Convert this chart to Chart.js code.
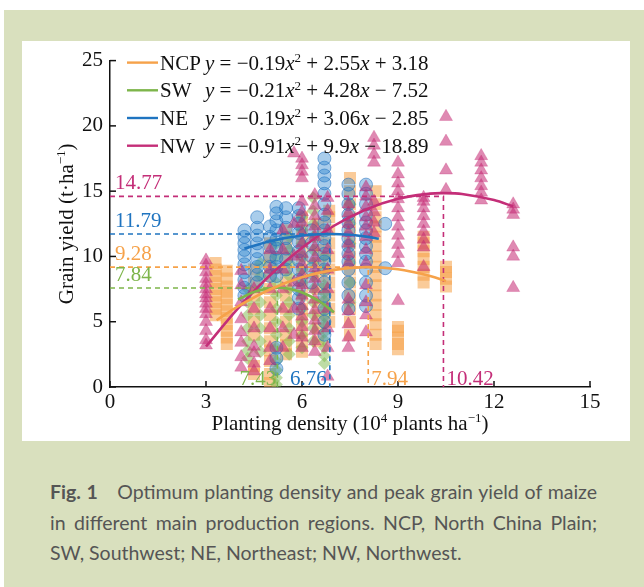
<!DOCTYPE html>
<html><head><meta charset="utf-8">
<script src="https://cdn.jsdelivr.net/npm/chart.js@4.4.0/dist/chart.umd.min.js"></script>
<style>
html,body{margin:0;padding:0;background:#fff;width:644px;height:587px;overflow:hidden;}
#bg{position:absolute;left:4px;top:10px;width:640px;height:577px;background:#d9e0be;}
#panel{position:absolute;left:22px;top:41px;width:608px;height:400px;background:#fff;}
#cap{position:absolute;left:50px;top:477px;width:547px;font-family:Lato,"Open Sans",sans-serif;font-size:19.5px;line-height:30.5px;color:#555;margin:0;}
#cap div{text-align:justify;text-align-last:justify;white-space:nowrap;}
#cap div.last{text-align:left;text-align-last:left;}
</style></head><body>
<div id="bg"></div>
<div id="panel"><canvas id="c" width="608" height="400"></canvas></div>
<div id="cap">
<div><b>Fig. 1</b>&ensp;&ensp;Optimum planting density and peak grain yield of maize</div>
<div>in different main production regions. NCP, North China Plain;</div>
<div class="last">SW, Southwest; NE, Northeast; NW, Northwest.</div>
</div>
<script>
// ---------- DATA ----------
const regions = ['NCP', 'SW', 'NE', 'NW'];
const equations = [
  ['−0.19', '2.55', '+', '3.18'],
  ['−0.21', '4.28', '−', '7.52'],
  ['−0.19', '3.06', '−', '2.85'],
  ['−0.91', '9.9', '−', '18.89']
];
// optimum density / peak yield (positions as drawn) and their printed labels
const peakX = [8.07, 5.23, 6.87, 10.42];
const peakY = [9.18, 7.58, 11.72, 14.6];
const peakXLabels = ['7.94', '7.43', '6.76', '10.42'];
const peakYLabels = ['9.28', '7.84', '11.79', '14.77'];

// fitted curves
const ncpCurveX = [3.33, 4, 5, 6, 7, 8, 9, 10, 10.5];
const ncpCurveY = [5.11, 6.18, 7.47, 8.40, 8.97, 9.18, 9.02, 8.51, 8.11];
const swCurveX = [4.0, 4.5, 5.0, 5.23, 5.5, 6.0, 6.5, 7.0];
const swCurveY = [6.7, 7.28, 7.57, 7.6, 7.56, 7.24, 6.63, 5.72];
const neCurveX = [4.2, 5, 6, 6.87, 7.5, 8, 8.4];
const neCurveY = [10.6, 11.17, 11.6, 11.72, 11.66, 11.52, 11.35];
const nwCurveX = [3.0, 4, 5, 6, 7, 8, 9, 10, 10.42, 11, 12, 12.6];
const nwCurveY = [3.1, 6.03, 8.56, 10.67, 12.35, 13.6, 14.42, 14.81, 14.85, 14.78, 14.32, 13.83];

// observations: columns of yields at each planting density
const ncpX = [3.3, 3.65, 4.5, 5.0, 5.5, 6.0, 6.5, 6.85, 7.5, 8.3, 9.0, 9.8, 10.5];
const ncpY = [
  [5.5,6.0,6.5,7.0,7.5,8.0,8.5,9.0,9.5],
  [3.3,3.8,4.3,4.8,5.3,5.8,6.3,6.8,7.3,7.7,8.3,8.9],
  [1.0,1.6,4.0,5.0,6.0,7.0,8.0,9.0],
  [0.3,1.0,2.0,2.8,3.5,4.5,5.5,6.5,7.5,8.5,9.3,10.0,11.0],
  [2.5,3.2,4.0,5.0,6.0,7.0,8.0,9.0,10.0,11.0,12.0],
  [2.7,3.5,4.3,5.2,6.0,7.0,8.0,9.0,10.0,11.0,12.0,13.0],
  [3.5,4.5,5.5,6.5,7.5,8.5,9.5,10.5,11.5,12.5],
  [5.0,6.0,7.0,8.0,9.0,10.0,11.0,12.0,13.0,13.5],
  [4.0,5.0,6.0,7.0,8.0,9.0,10.0,11.0,12.0,13.0,14.0,15.0,16.0],
  [3.3,4.0,4.8,5.5,6.3,7.0,7.8,8.5,9.2,10.0,10.8,11.5,12.3,13.0,14.0,15.0],
  [2.9,3.3,3.8,4.3,4.6],
  [8.0,8.6,9.2,9.8,10.4,11.0,11.5],
  [7.7,8.3,8.8,9.2]
];
const swX = [4.3, 4.7, 5.2, 5.6, 6.0, 6.35, 6.7, 7.5];
const swY = [
  [2.2,2.8,3.5,4.5,5.5,6.5,7.5],
  [2.7,3.5,4.5,5.5,6.5,7.5,8.5,9.5],
  [0.2,0.7,1.3,2.0,3.0,4.0,5.0,6.0,7.0,8.0,9.0,10.0,11.0],
  [2.5,3.5,4.5,5.5,6.5,7.5,8.5,9.5,10.5,11.5],
  [3.0,4.0,5.0,6.0,7.0,8.0,9.0,10.0,11.0,12.0,13.0],
  [3.5,4.5,5.5,6.5,7.5,8.5,9.5,10.5,11.5,12.5,13.5,14.5],
  [1.8,2.4,3.0,3.6,4.2,4.8,5.4,6.0,6.6,7.2,7.8,9.0,10.0],
  [6.5,8.0,9.5,11.0,12.5,14.0]
];
const neX = [4.2, 4.6, 5.0, 5.2, 5.5, 5.9, 6.3, 6.7, 7.45, 8.0, 8.6];
const neY = [
  [7.0,7.6,8.2,8.8,9.4,10.0,10.5,11.0,11.5,12.0],
  [8.0,8.6,9.2,9.8,10.4,11.0,11.6,12.2,13.0],
  [8.5,9.2,10.0,10.8,11.5,12.3],
  [1.4,2.2,3.0,8.5,9.2,9.9,10.6,11.3,12.0,12.7,13.3,13.8],
  [9.0,9.8,10.6,11.4,12.2,13.0,13.7],
  [6.0,6.8,7.5,8.2,9.0,9.7,10.4,11.1,11.8,12.5,13.1,13.7],
  [8.0,9.0,10.0,11.0,12.0],
  [4.0,5.0,6.0,7.0,8.0,9.0,9.6,10.2,10.8,11.4,12.0,12.6,13.2,14.0,14.8,15.6,16.2,16.8,17.5],
  [6.0,7.0,8.0,9.0,9.6,10.2,10.8,11.4,12.0,12.6,13.2,14.0,14.8,15.5],
  [6.2,7.0,8.0,9.0,9.6,10.2,10.8,11.4,12.0,12.6,13.2,14.0,14.8,15.5],
  [9.1,12.5]
];
const nwX = [3.0, 4.1, 4.5, 5.0, 5.4, 5.75, 6.0, 6.4, 6.8, 7.45, 8.0, 8.25, 9.0, 9.8, 10.5, 11.6, 12.6];
const nwY = [
  [3.2,3.6,4.3,5.0,5.6,6.0,6.4,6.8,7.1,7.5,7.9,8.3,8.8,9.3,9.7],
  [1.5,2.3,3.4,4.2,5.2,6.5,7.8,8.9],
  [1.2,1.8,2.6,3.1,4.5,6.0,7.5],
  [2.0,3.0,4.5,6.0,7.5,9.0,10.5],
  [3.0,4.5,6.0,7.5,9.0,10.5,12.0],
  [4.0,6.0,8.0,10.0,12.5,17.9],
  [3.0,3.8,4.6,5.4,6.2,7.0,7.8,8.6,9.4,10.2,11.0,11.8,12.6,13.4,14.2,16.0,16.5,17.0,17.5],
  [2.7,3.5,4.3,5.1,5.9,6.7,7.5,8.3,9.1,9.9,10.7,11.5,12.3,13.1,13.9,14.7],
  [0.8,3.0,4.5,6.0,7.5,9.0,10.5,12.0,13.5,14.5],
  [3.0,3.8,4.8,5.8,6.7,9.5,10.2,11.0,11.8,12.5,13.3,14.0],
  [4.2,5.5,6.5,7.8,9.5,10.5,11.5,12.3,13.0,13.8,14.6,15.3],
  [11.8,12.6,13.4,14.2,17.2,17.8,18.5,19.1],
  [6.6,9.5,10.2,10.9,11.6,12.3,13.0,13.7,14.4,15.0,15.6,16.3,17.2],
  [9.2,10.7,11.3,11.9,12.5,13.1,13.7,14.2,14.5],
  [15.1,16.6,18.8,20.7],
  [14.3,14.9,15.4,16.0,16.6,17.2,17.7],
  [7.6,10.0,10.7,13.2,13.6,14.0]
];
const xTicks = [0, 3, 6, 9, 12, 15];
const yTicks = [0, 5, 10, 15, 20, 25];

// ---------- STYLE ----------
const lineColors = ['#f6a24a', '#7db54a', '#1f74c0', '#c42e78'];
const SERIF = '"Liberation Serif", "Times New Roman", serif';

function cols(xs, ys) {
  const out = [];
  xs.forEach((x, i) => ys[i].forEach(y => out.push({x, y})));
  return out;
}
function pairs(xs, ys) { return xs.map((x, i) => ({x, y: ys[i]})); }

const datasets = [];
[[ncpCurveX, ncpCurveY], [swCurveX, swCurveY], [neCurveX, neCurveY], [nwCurveX, nwCurveY]].forEach((c, i) => {
  datasets.push({data: pairs(c[0], c[1]), showLine: true, borderColor: lineColors[i], borderWidth: 2.6,
    pointRadius: 0, tension: 0.35, order: 0});
});
peakX.forEach((px, i) => {
  datasets.push({data: [{x: 0, y: peakY[i]}, {x: px, y: peakY[i]}, {x: px, y: 0}], showLine: true,
    borderColor: lineColors[i], borderWidth: 1.6, borderDash: [5, 4], pointRadius: 0, tension: 0, order: 1});
});
datasets.push({data: cols(nwX, nwY), pointStyle: 'triangle', pointRadius: 7.5,
  backgroundColor: 'rgba(196,40,115,0.55)', borderColor: 'rgba(196,40,115,0.25)', borderWidth: 1, order: 2});
datasets.push({data: cols(neX, neY), pointStyle: 'circle', pointRadius: 6.5,
  backgroundColor: 'rgba(40,130,205,0.4)', borderColor: 'rgba(30,110,190,0.55)', borderWidth: 1, order: 3});
datasets.push({data: cols(swX, swY), pointStyle: 'rectRot', pointRadius: 6.5,
  backgroundColor: 'rgba(125,185,75,0.5)', borderWidth: 0, order: 4});
datasets.push({data: cols(ncpX, ncpY), pointStyle: 'rect', pointRadius: 8.5,
  backgroundColor: 'rgba(246,160,70,0.55)', borderWidth: 0, order: 5});

function runs(ctx, x, y, parts, size, measureOnly) {
  for (const [t, st] of parts) {
    let fs = size, dy = 0;
    const it = st.indexOf('i') >= 0;
    if (st.indexOf('s') >= 0) { fs = size * 0.62; dy = -size * 0.36; }
    ctx.font = (it ? 'italic ' : '') + fs + 'px ' + SERIF;
    if (!measureOnly) ctx.fillText(t, x, y + dy);
    x += ctx.measureText(t).width;
  }
  return x;
}

const deco = {
  id: 'deco',
  afterDraw(chart) {
    const {ctx, chartArea: a, scales: {x, y}} = chart;
    ctx.save();
    ctx.strokeStyle = '#111'; ctx.lineWidth = 1.5;
    xTicks.forEach(v => { const p = x.getPixelForValue(v); ctx.beginPath(); ctx.moveTo(p, a.bottom); ctx.lineTo(p, a.bottom - 6); ctx.stroke(); });
    yTicks.forEach(v => { const p = y.getPixelForValue(v); ctx.beginPath(); ctx.moveTo(a.left, p); ctx.lineTo(a.left + 6, p); ctx.stroke(); });
    ctx.textBaseline = 'alphabetic'; ctx.textAlign = 'left';
    regions.forEach((r, i) => {
      const cy = a.top + 2 + i * 27.7;
      ctx.strokeStyle = lineColors[i]; ctx.lineWidth = 2.4;
      ctx.beginPath(); ctx.moveTo(a.left + 17, cy); ctx.lineTo(a.left + 48, cy); ctx.stroke();
      ctx.fillStyle = '#111';
      runs(ctx, a.left + 50, cy + 7, [[r, '']], 21);
      const e = equations[i];
      runs(ctx, a.left + 95, cy + 7, [['y', 'i'], [' = ' + e[0], ''], ['x', 'i'], ['2', 's'], [' + ' + e[1], ''], ['x', 'i'], [' ' + e[2] + ' ' + e[3], '']], 21);
    });
    ctx.font = '21px ' + SERIF;
    peakX.forEach((px, i) => {
      ctx.fillStyle = lineColors[i];
      const py = y.getPixelForValue(peakY[i]);
      ctx.textAlign = 'left';
      ctx.fillText(peakYLabels[i], a.left + 5, py - 7);
      const pp = x.getPixelForValue(px);
      if (i === 1 || i === 2) { ctx.textAlign = 'right'; ctx.fillText(peakXLabels[i], pp - (i === 1 ? 1 : 3), a.bottom - 2); }
      else { ctx.textAlign = 'left'; ctx.fillText(peakXLabels[i], pp + 3, a.bottom - 2); }
    });
    ctx.fillStyle = '#111'; ctx.textAlign = 'left';
    const xt = [['Planting density (10', ''], ['4', 's'], [' plants ha', ''], ['−1', 's'], [')', '']];
    const w = runs(ctx, 0, 0, xt, 21, true);
    runs(ctx, (a.left + a.right) / 2 - w / 2, a.bottom + 43, xt, 21);
    const yt = [['Grain yield (t·ha', ''], ['−1', 's'], [')', '']];
    const wy = runs(ctx, 0, 0, yt, 21, true);
    ctx.translate(51, (a.top + a.bottom) / 2);
    ctx.rotate(-Math.PI / 2);
    runs(ctx, -wy / 2, 0, yt, 21);
    ctx.restore();
  }
};

new Chart(document.getElementById('c'), {
  type: 'scatter',
  data: {datasets},
  options: {
    responsive: false, devicePixelRatio: 1, animation: false,
    layout: {padding: {top: 12, right: 40, left: 0, bottom: 0}},
    plugins: {legend: {display: false}, tooltip: {enabled: false}},
    scales: {
      x: {type: 'linear', min: 0, max: 15,
        ticks: {stepSize: 3, font: {family: SERIF, size: 21}, color: '#111', padding: 3, maxRotation: 0},
        grid: {display: false, drawTicks: false},
        border: {display: true, color: '#111', width: 1.5},
        afterFit: s => { s.height = 54; }},
      y: {type: 'linear', min: 0, max: 25,
        ticks: {stepSize: 5, font: {family: SERIF, size: 21}, color: '#111', padding: 7},
        grid: {display: false, drawTicks: false},
        border: {display: true, color: '#111', width: 1.5},
        afterFit: s => { s.width = 88; }}
    }
  },
  plugins: [deco]
});
</script>
</body></html>
